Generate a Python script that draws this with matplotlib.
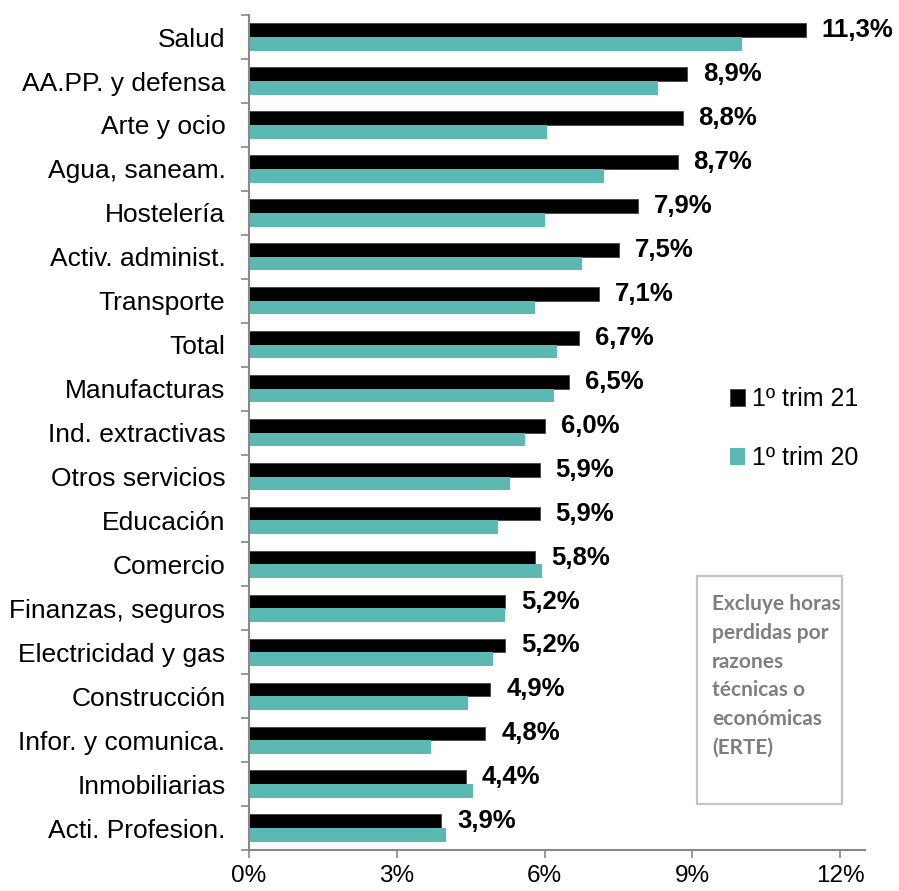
import numpy as np
import matplotlib
matplotlib.use('Agg')
import matplotlib.pyplot as plt
from matplotlib.patches import Rectangle
from matplotlib.ticker import FixedLocator, FuncFormatter

plt.rcParams['font.family'] = ['Liberation Sans', 'DejaVu Sans']

# data
sectores = ['Salud', 'AA.PP. y defensa', 'Arte y ocio', 'Agua, saneam.', 'Hostelería',
            'Activ. administ.', 'Transporte', 'Total', 'Manufacturas', 'Ind. extractivas',
            'Otros servicios', 'Educación', 'Comercio', 'Finanzas, seguros',
            'Electricidad y gas', 'Construcción', 'Infor. y comunica.', 'Inmobiliarias',
            'Acti. Profesion.']
trim21 = [11.3, 8.9, 8.8, 8.7, 7.9, 7.5, 7.1, 6.7, 6.5, 6.0, 5.9, 5.9, 5.8, 5.2, 5.2, 4.9, 4.8, 4.4, 3.9]
trim20 = [10.0, 8.3, 6.05, 7.2, 6.0, 6.75, 5.8, 6.25, 6.2, 5.6, 5.3, 5.05, 5.95, 5.2, 4.95, 4.45, 3.7, 4.55, 4.0]
xticks = [0, 3, 6, 9, 12]
nota = 'Excluye horas\nperdidas por\nrazones\ntécnicas o\neconómicas\n(ERTE)'

negro = '#000000'
verde = '#5cb8b2'
gris = '#888888'

fig = plt.figure(figsize=(8.99, 8.91), dpi=100)
ax = fig.add_axes([0.277, 0.046, 0.685, 0.937])

y = np.arange(len(sectores))
h = 0.31
b21 = ax.barh(y - h / 2, trim21, height=h, color=negro, edgecolor='#444444', linewidth=0.6,
              label='1º trim 21')
b20 = ax.barh(y + h / 2, trim20, height=h, color=verde, linewidth=0, label='1º trim 20')

for yi, v in zip(y, trim21):
    ax.annotate(f'{v:.1f}%'.replace('.', ','), xy=(v, yi - h / 2), xytext=(11.5, 0),
                textcoords='offset points', va='center', ha='left',
                fontsize=18.5, fontweight='bold')

ax.set_xlim(0, 12.5)
ax.set_ylim(len(sectores) - 0.5, -0.5)

ax.set_xticks(xticks)
ax.xaxis.set_major_formatter(FuncFormatter(lambda v, p: f'{v:.0f}%'))
ax.tick_params(axis='x', labelsize=17.5, length=6, width=1.2, color=gris, pad=5)

ax.set_yticks(y)
ax.set_yticklabels(sectores)
ax.tick_params(axis='y', which='major', labelsize=19, length=0, pad=17)
ax.yaxis.set_minor_locator(FixedLocator(np.arange(len(sectores) + 1) - 0.5))
ax.tick_params(axis='y', which='minor', length=6, width=1.2, color=gris)

for s in ['top', 'right']:
    ax.spines[s].set_visible(False)
for s in ['left', 'bottom']:
    ax.spines[s].set_color(gris)
    ax.spines[s].set_linewidth(1.5)

ax.legend(handles=[b21, b20], loc='upper left', bbox_to_anchor=(0.744, 0.581),
          frameon=False, fontsize=18, handlelength=0.6, handleheight=0.7,
          handletextpad=0.3, labelspacing=1.4)

# note box
fig.add_artist(Rectangle((697 / 899, 1 - 804 / 891), 145 / 899, 228 / 891,
                         transform=fig.transFigure, fill=False, edgecolor='#c4c4c4', linewidth=1.6))
fig.text(712 / 899, 1 - 594 / 891, nota, ha='left', va='top', color='#7f7f7f',
         fontsize=15, family=['Lato', 'DejaVu Sans'], fontweight='bold', linespacing=1.55)

fig.savefig('out.png', dpi=100)
